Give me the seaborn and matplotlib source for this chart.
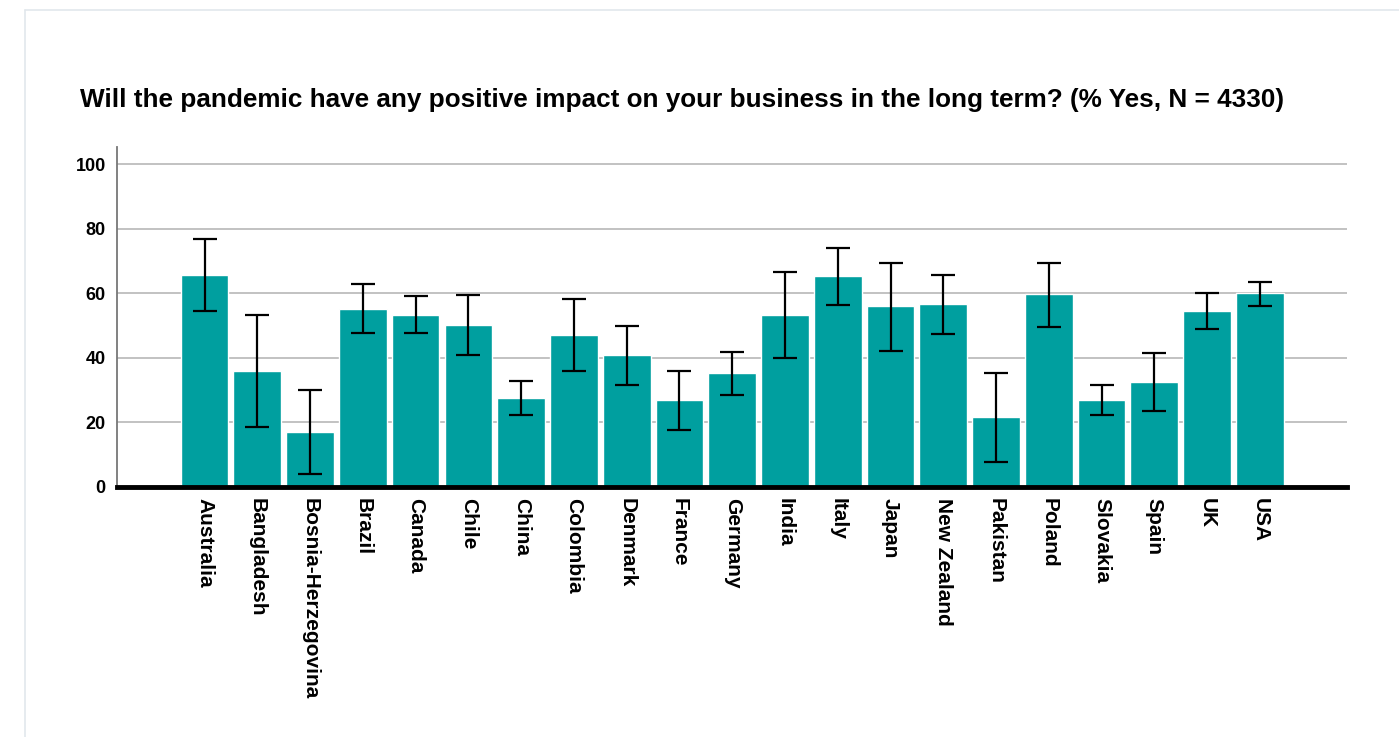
import matplotlib
matplotlib.use('Agg')
import numpy as np
import pandas as pd
import matplotlib.pyplot as plt
import seaborn as sns
from matplotlib.lines import Line2D

# Данные
countries = ['Australia', 'Bangladesh', 'Bosnia-Herzegovina', 'Brazil', 'Canada', 'Chile',
             'China', 'Colombia', 'Denmark', 'France', 'Germany', 'India', 'Italy', 'Japan',
             'New Zealand', 'Pakistan', 'Poland', 'Slovakia', 'Spain', 'UK', 'USA']
pct_yes = [65.6, 36.0, 17.0, 55.1, 53.2, 50.1, 27.5, 47.0, 40.8, 26.9, 35.2, 53.2, 65.3,
           56.0, 56.6, 21.6, 59.7, 26.9, 32.4, 54.4, 59.9]
ci_low = [54.5, 18.5, 3.8, 47.5, 47.5, 40.9, 22.1, 35.9, 31.5, 17.7, 28.4, 39.9, 56.2,
          42.1, 47.3, 7.6, 49.5, 22.2, 23.6, 49.0, 56.1]
ci_high = [76.8, 53.1, 30.0, 62.8, 59.1, 59.4, 32.8, 58.2, 49.8, 36.0, 41.7, 66.5, 74.1,
           69.5, 65.6, 35.4, 69.5, 31.5, 41.4, 59.9, 63.6]
y_ticks = [0, 20, 40, 60, 80, 100]
title = 'Will the pandemic have any positive impact on your business in the long term? (% Yes, N = 4330)'

sns.set_style('white')
plt.rcParams['font.family'] = ['Liberation Sans', 'DejaVu Sans']
plt.rcParams['text.color'] = 'black'
plt.rcParams['xtick.color'] = 'black'
plt.rcParams['ytick.color'] = 'black'

df = pd.DataFrame({'country': countries, 'pct': pct_yes})

fig = plt.figure(figsize=(13.99, 7.37), dpi=100)
ax = fig.add_axes([0.0836, 0.3396, 0.8792, 0.4609])

sns.barplot(data=df, x='country', y='pct', color='#009F9F', saturation=1,
            width=0.905, errorbar=None, ax=ax, zorder=2)

# Доверительные интервалы
pos = np.arange(len(countries))
vals = np.array(pct_yes)
yerr = [vals - np.array(ci_low), np.array(ci_high) - vals]
ax.errorbar(pos, vals, yerr=yerr, fmt='none', ecolor='black', elinewidth=1.6,
            capsize=8.5, capthick=1.6, zorder=3)

ax.set_xlim(-1.66, 21.65)
ax.set_ylim(0, 105.3)
ax.set_yticks(y_ticks)
ax.yaxis.grid(True, color='#bdbdbd', linewidth=1.3, zorder=0)
ax.set_axisbelow(True)
ax.set_xlabel('')
ax.set_ylabel('')

for side in ['top', 'right']:
    ax.spines[side].set_visible(False)
ax.spines['left'].set_color('#777777')
ax.spines['left'].set_linewidth(1.3)
ax.spines['bottom'].set_color('black')
ax.spines['bottom'].set_linewidth(3.5)
ax.spines['bottom'].set_zorder(4)

ax.tick_params(axis='y', length=0, pad=8, labelsize=13, labelcolor='black')
ax.tick_params(axis='x', length=0, pad=8, labelsize=15, labelcolor='black')
for lbl in ax.get_yticklabels():
    lbl.set_fontweight('bold')
for lbl in ax.get_xticklabels():
    lbl.set_fontweight('bold')
    lbl.set_rotation(270)
    lbl.set_ha('center')
    lbl.set_va('top')

fig.text(80 / 1399, 1 - 107 / 737, title, ha='left', va='baseline',
         fontsize=18.8, fontweight='bold', color='black')

# Рамка карточки
fig.add_artist(Line2D([24.5 / 1399, 24.5 / 1399], [0, 1 - 9.5 / 737],
                      transform=fig.transFigure, color='#e2e7ec', linewidth=1.2))
fig.add_artist(Line2D([24.5 / 1399, 1], [1 - 9.5 / 737, 1 - 9.5 / 737],
                      transform=fig.transFigure, color='#e2e7ec', linewidth=1.2))

fig.savefig('out.png', dpi=100)
plt.close()
